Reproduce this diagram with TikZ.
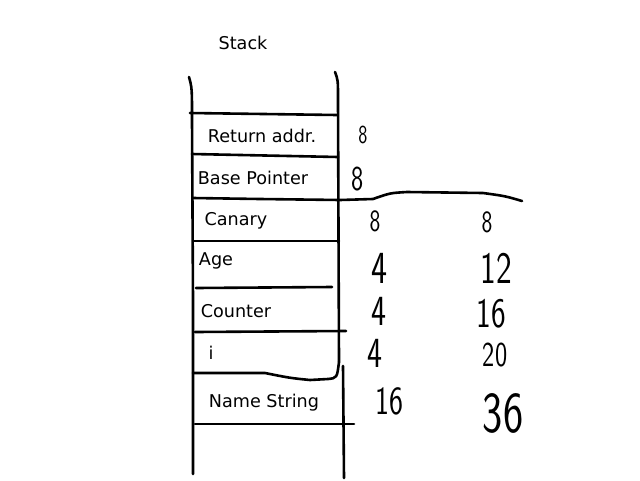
\documentclass[tikz,border=0pt]{standalone}
\usepackage{fontspec}
\setmainfont{DejaVu Sans}
\begin{document}
\begin{tikzpicture}[x=1pt,y=-1pt,line width=2.6pt,line cap=round,line join=round,
  lbl/.style={inner sep=0pt,font=\fontsize{17.6}{19}\selectfont},
  hw/.style={inner sep=0pt,xscale=0.74,text depth=0pt,text height=#1}]
\useasboundingbox[fill=white] (0,0) rectangle (640,480);
% walls
\draw (189,77) .. controls (192,88) .. (192,120) -- (193,300) -- (193,474);
\draw (335,72) .. controls (338,80) .. (338,100) -- (339,362);
\draw (343,366) -- (344,478);
% slots
\draw (190,113) -- (337,115);
\draw (192,154) -- (338,157);
\draw (193,198) -- (260,199) -- (340,200) -- (373,199) .. controls (390,193) .. (407,192) -- (483,193) .. controls (505,196) .. (522,201);
\draw (194,241) -- (339,241);
\draw (196,288) -- (332,287);
\draw (195,332) -- (346,331);
\draw (193,373) -- (265,373) .. controls (290,378) .. (310,380) -- (328,379) .. controls (337,378) .. (339,362);
\draw (195,424) -- (354,424);
% labels
\node[lbl] (title) at (243,43) {Stack};
\node[lbl] (ret) at (262,136) {Return addr.};
\node[lbl] (bp) at (253,178) {Base Pointer};
\node[lbl] (can) at (236,221) {Canary};
\node[lbl] (age) at (216,261) {Age};
\node[lbl] (cnt) at (236,311) {Counter};
\node[lbl] (ivar) at (211,353) {i};
\node[lbl] (ns) at (264,403) {Name String};
% handwritten sizes
\node[hw=18pt,font=\sffamily\fontsize{26}{26}\selectfont] (a1) at (363,134) {8};
\node[hw=24pt,font=\sffamily\fontsize{35}{35}\selectfont] (a2) at (358,178) {8};
\node[hw=21pt,font=\sffamily\fontsize{31}{31}\selectfont] (a3) at (375,221) {8};
\node[hw=31pt,font=\sffamily\fontsize{46}{46}\selectfont] (a4) at (379,268) {4};
\node[hw=29pt,font=\sffamily\fontsize{43}{43}\selectfont] (a5) at (379,311) {4};
\node[hw=29pt,font=\sffamily\fontsize{43}{43}\selectfont] (a6) at (375,353) {4};
\node[hw=27pt,font=\sffamily\fontsize{40}{40}\selectfont] (a7) at (389,401) {16};
\node[hw=21pt,font=\sffamily\fontsize{31}{31}\selectfont] (b3) at (487,222) {8};
\node[hw=30pt,font=\sffamily\fontsize{45}{45}\selectfont] (b4) at (496,268) {12};
\node[hw=28pt,font=\sffamily\fontsize{42}{42}\selectfont] (b5) at (491,313) {16};
\node[hw=23pt,font=\sffamily\fontsize{35}{35}\selectfont] (b6) at (495,355) {20};
\node[hw=39pt,font=\sffamily\fontsize{58}{58}\selectfont] (b7) at (503,413) {36};
\end{tikzpicture}
\end{document}
